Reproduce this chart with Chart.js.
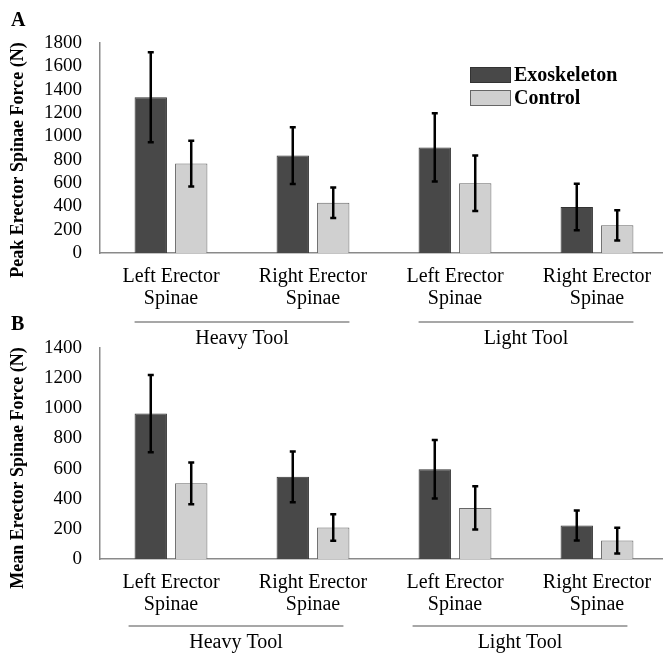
<!DOCTYPE html>
<html>
<head>
<meta charset="utf-8">
<script src="https://cdn.jsdelivr.net/npm/chart.js@4/dist/chart.umd.min.js"></script>
<style>
  html, body { margin: 0; padding: 0; background: #fff; overflow: hidden; }
  #wrap { position: relative; width: 663px; height: 653px; overflow: hidden; }
  canvas { position: absolute; left: 0; }
  #chartA { top: 0; }
  #chartB { top: 300px; }
</style>
</head>
<body>
<div id="wrap">
  <canvas id="chartA" width="680" height="360"></canvas>
  <canvas id="chartB" width="680" height="353"></canvas>
</div>
<script>
// Data
const categories = [['Left Erector', 'Spinae'], ['Right Erector', 'Spinae'], ['Left Erector', 'Spinae'], ['Right Erector', 'Spinae']];
const groupLabels = ['Heavy Tool', 'Light Tool'];
const seriesNames = ['Exoskeleton', 'Control'];

const peakExo = [1335, 835, 905, 395];
const peakExoErr = [385, 243, 293, 199];
const peakCtrl = [767, 430, 598, 237];
const peakCtrlErr = [196, 131, 237, 130];

const meanExo = [965, 545, 595, 222];
const meanExoErr = [256, 168, 194, 100];
const meanCtrl = [502, 209, 339, 122];
const meanCtrlErr = [139, 88, 143, 85];

const FONT = '"Liberation Serif", "Times New Roman", serif';
const DARK = '#484848';
const LIGHT = '#d0d0d0';

Chart.defaults.font.family = FONT;

// Draws error bars, group brackets, axis title, panel letter and legend
function makeDecor(cfg) {
    return {
        id: 'decor',
        afterDatasetsDraw(chart) {
            const ctx = chart.ctx;
            const y = chart.scales.y;
            ctx.save();
            ctx.strokeStyle = '#000';
            ctx.lineWidth = 2.5;
            chart.data.datasets.forEach(function(ds, d) {
                const meta = chart.getDatasetMeta(d);
                meta.data.forEach(function(bar, i) {
                    const v = ds.data[i], e = ds.errors[i];
                    const top = y.getPixelForValue(v + e);
                    const bot = y.getPixelForValue(v - e);
                    ctx.beginPath();
                    ctx.moveTo(bar.x, top); ctx.lineTo(bar.x, bot);
                    ctx.moveTo(bar.x - 3, top); ctx.lineTo(bar.x + 3, top);
                    ctx.moveTo(bar.x - 3, bot); ctx.lineTo(bar.x + 3, bot);
                    ctx.stroke();
                });
            });
            ctx.restore();
        },
        afterDraw(chart) {
            const ctx = chart.ctx;
            const area = chart.chartArea;
            const first = chart.getDatasetMeta(0).data;
            const last = chart.getDatasetMeta(1).data;
            ctx.save();

            // group brackets under the category labels
            groupLabels.forEach(function(label, g) {
                const a = first[g * 2], b = last[g * 2 + 1];
                const x0 = a.x - a.width / 2 + cfg.bracketShift;
                const x1 = b.x + b.width / 2 + cfg.bracketShift;
                const ly = area.bottom + cfg.bracketOffset;
                ctx.strokeStyle = '#8a8a8a';
                ctx.lineWidth = 1.5;
                ctx.beginPath();
                ctx.moveTo(x0, ly); ctx.lineTo(x1, ly);
                ctx.stroke();
                ctx.fillStyle = '#000';
                ctx.font = '20px ' + FONT;
                ctx.textAlign = 'center';
                ctx.textBaseline = 'middle';
                ctx.fillText(label, (x0 + x1) / 2, ly + 17);
            });

            // rotated y axis title
            ctx.translate(18, cfg.titleY);
            ctx.rotate(-Math.PI / 2);
            ctx.font = 'bold 18px ' + FONT;
            ctx.textAlign = 'center';
            ctx.textBaseline = 'middle';
            ctx.fillStyle = '#000';
            ctx.fillText(cfg.title, 0, 0);
            ctx.setTransform(1, 0, 0, 1, 0, 0);

            // panel letter
            ctx.font = 'bold 20px ' + FONT;
            ctx.textAlign = 'left';
            ctx.fillText(cfg.letter, 11, cfg.letterY);

            // legend inside the plot
            if (cfg.legend) {
                chart.data.datasets.forEach(function(ds, d) {
                    const bx = 470, by = 67 + d * 23;
                    ctx.fillStyle = ds.backgroundColor;
                    ctx.fillRect(bx, by, 40, 15);
                    ctx.strokeStyle = ds.borderColor;
                    ctx.lineWidth = 1;
                    ctx.strokeRect(bx + 0.5, by + 0.5, 40, 15);
                    ctx.fillStyle = '#000';
                    ctx.font = 'bold 20px ' + FONT;
                    ctx.textAlign = 'left';
                    ctx.textBaseline = 'middle';
                    ctx.fillText(ds.label, bx + 44, by + 9);
                });
            }
            ctx.restore();
        }
    };
}

function buildChart(id, exo, exoErr, ctrl, ctrlErr, yMax, cfg) {
    const canvas = document.getElementById(id);
    return new Chart(canvas, {
        type: 'bar',
        data: {
            labels: categories,
            datasets: [
                { label: seriesNames[0], data: exo, errors: exoErr, backgroundColor: DARK, borderColor: '#333', borderWidth: 1 },
                { label: seriesNames[1], data: ctrl, errors: ctrlErr, backgroundColor: LIGHT, borderColor: '#666', borderWidth: 1 }
            ]
        },
        options: {
            responsive: false,
            animation: false,
            categoryPercentage: 0.57,
            barPercentage: 0.8,
            layout: { padding: { left: 0, right: 12, top: cfg.padTop, bottom: 0 } },
            plugins: {
                legend: { display: false },
                tooltip: { enabled: false }
            },
            scales: {
                x: {
                    grid: { display: false, drawTicks: false },
                    border: { display: true, color: '#8a8a8a', width: 1.5 },
                    ticks: { color: '#000', padding: 13, font: { family: FONT, size: 20, lineHeight: 1.1 } },
                    afterFit: function(scale) { scale.height = cfg.xHeight; }
                },
                y: {
                    min: 0,
                    max: yMax,
                    grid: { display: false, drawTicks: false },
                    border: { display: true, color: '#8a8a8a', width: 1.5 },
                    ticks: {
                        stepSize: 200,
                        autoSkip: false,
                        color: '#000',
                        padding: 18,
                        font: { family: FONT, size: 19, lineHeight: 1 },
                        callback: function(value) { return String(value); }
                    },
                    afterFit: function(scale) { scale.width = 100; }
                }
            }
        },
        plugins: [makeDecor(cfg)]
    });
}

buildChart('chartA', peakExo, peakExoErr, peakCtrl, peakCtrlErr, 1800, {
    padTop: 43, xHeight: 107, bracketOffset: 69, bracketShift: 0, titleY: 160,
    title: 'Peak Erector Spinae Force (N)', letter: 'A', letterY: 21, legend: true
});
buildChart('chartB', meanExo, meanExoErr, meanCtrl, meanCtrlErr, 1400, {
    padTop: 48, xHeight: 94, bracketOffset: 67, bracketShift: -6, titleY: 168,
    title: 'Mean Erector Spinae Force (N)', letter: 'B', letterY: 25, legend: false
});
</script>
</body>
</html>
